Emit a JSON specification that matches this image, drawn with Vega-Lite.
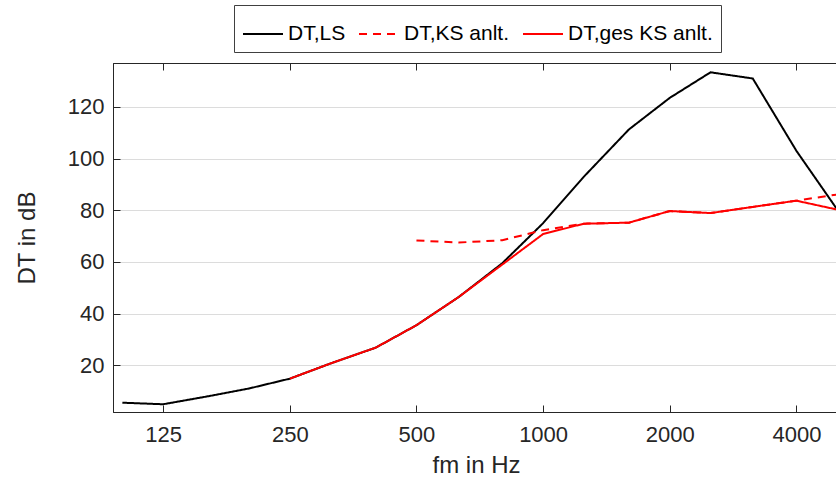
{
  "$schema": "https://vega.github.io/schema/vega-lite/v6.json",
  "autosize": {"type": "none"},
  "padding": {"left": 113, "top": 63, "right": 0, "bottom": 82},
  "width": 726,
  "height": 349,
  "background": "white",
  "config": {
    "view": {"stroke": "#262626", "strokeWidth": 1},
    "font": "Liberation Sans"
  },
  "data": {
    "values": [
      {"series": "DT,LS", "f": 100, "D": 5.5},
      {"series": "DT,LS", "f": 125, "D": 4.9},
      {"series": "DT,LS", "f": 160, "D": 8.0},
      {"series": "DT,LS", "f": 200, "D": 11.0},
      {"series": "DT,LS", "f": 250, "D": 14.8},
      {"series": "DT,LS", "f": 315, "D": 20.9},
      {"series": "DT,LS", "f": 400, "D": 26.8},
      {"series": "DT,LS", "f": 500, "D": 35.5},
      {"series": "DT,LS", "f": 630, "D": 46.4},
      {"series": "DT,LS", "f": 800, "D": 59.5},
      {"series": "DT,LS", "f": 1000, "D": 75.0},
      {"series": "DT,LS", "f": 1250, "D": 93.0},
      {"series": "DT,LS", "f": 1600, "D": 111.3},
      {"series": "DT,LS", "f": 2000, "D": 123.5},
      {"series": "DT,LS", "f": 2500, "D": 133.4},
      {"series": "DT,LS", "f": 3150, "D": 131.0},
      {"series": "DT,LS", "f": 4000, "D": 103.0},
      {"series": "DT,LS", "f": 5000, "D": 80.3},
      {"series": "DT,KS anlt.", "f": 500, "D": 68.3},
      {"series": "DT,KS anlt.", "f": 630, "D": 67.5},
      {"series": "DT,KS anlt.", "f": 800, "D": 68.4},
      {"series": "DT,KS anlt.", "f": 1000, "D": 72.3},
      {"series": "DT,KS anlt.", "f": 1250, "D": 74.8},
      {"series": "DT,KS anlt.", "f": 1600, "D": 75.2},
      {"series": "DT,KS anlt.", "f": 2000, "D": 79.7},
      {"series": "DT,KS anlt.", "f": 2500, "D": 78.9},
      {"series": "DT,KS anlt.", "f": 3150, "D": 81.3},
      {"series": "DT,KS anlt.", "f": 4000, "D": 83.7},
      {"series": "DT,KS anlt.", "f": 5000, "D": 86.1},
      {"series": "DT,ges KS anlt.", "f": 250, "D": 14.8},
      {"series": "DT,ges KS anlt.", "f": 315, "D": 20.9},
      {"series": "DT,ges KS anlt.", "f": 400, "D": 26.8},
      {"series": "DT,ges KS anlt.", "f": 500, "D": 35.5},
      {"series": "DT,ges KS anlt.", "f": 630, "D": 46.4},
      {"series": "DT,ges KS anlt.", "f": 800, "D": 59.0},
      {"series": "DT,ges KS anlt.", "f": 1000, "D": 70.8},
      {"series": "DT,ges KS anlt.", "f": 1250, "D": 74.8},
      {"series": "DT,ges KS anlt.", "f": 1600, "D": 75.2},
      {"series": "DT,ges KS anlt.", "f": 2000, "D": 79.7},
      {"series": "DT,ges KS anlt.", "f": 2500, "D": 78.9},
      {"series": "DT,ges KS anlt.", "f": 3150, "D": 81.3},
      {"series": "DT,ges KS anlt.", "f": 4000, "D": 83.7},
      {"series": "DT,ges KS anlt.", "f": 5000, "D": 80.25}
    ]
  },
  "layer": [
    {
      "mark": {"type": "line", "strokeWidth": 2, "clip": true},
      "encoding": {
        "x": {
          "field": "f",
          "type": "quantitative",
          "scale": {"type": "log", "domain": [95, 5050], "nice": false},
          "axis": {
            "orient": "bottom",
            "values": [125, 250, 500, 1000, 2000, 4000],
            "format": "d",
            "grid": false,
            "labelFontSize": 22,
            "labelColor": "#262626",
            "labelFont": "Liberation Sans",
            "domainColor": "#262626",
            "tickColor": "#262626",
            "tickSize": -7,
            "labelPadding": 19,
            "labelFlush": false,
            "title": "fm in Hz",
            "titleFontSize": 24,
            "titleFontWeight": "normal",
            "titleColor": "#262626",
            "titleFont": "Liberation Sans",
            "titlePadding": 8
          }
        },
        "y": {
          "field": "D",
          "type": "quantitative",
          "scale": {"domain": [1.9, 137], "nice": false, "zero": false},
          "axis": {
            "values": [20, 40, 60, 80, 100, 120],
            "grid": true,
            "gridColor": "#dcdcdc",
            "labelFontSize": 22,
            "labelColor": "#262626",
            "labelFont": "Liberation Sans",
            "domainColor": "#262626",
            "tickColor": "#262626",
            "tickSize": -7,
            "labelPadding": 16,
            "title": "DT in dB",
            "titleFontSize": 24,
            "titleFontWeight": "normal",
            "titleColor": "#262626",
            "titleFont": "Liberation Sans",
            "titlePadding": 28
          }
        },
        "color": {
          "field": "series",
          "type": "nominal",
          "sort": ["DT,LS", "DT,KS anlt.", "DT,ges KS anlt."],
          "scale": {"domain": ["DT,LS", "DT,KS anlt.", "DT,ges KS anlt."], "range": ["#000000", "#ff0000", "#ff0000"]},
          "legend": {
            "title": null,
            "orient": "none",
            "legendX": 121,
            "legendY": -58,
            "direction": "horizontal",
            "symbolType": "stroke",
            "symbolSize": 1600,
            "symbolStrokeWidth": 2,
            "labelFontSize": 21,
            "labelFont": "Liberation Sans",
            "labelColor": "#000000",
            "labelOffset": 4,
            "columnPadding": 9,
            "padding": 8,
            "strokeColor": "#404040",
            "fillColor": "#ffffff",
            "labelLimit": 400
          }
        },
        "strokeDash": {
          "field": "series",
          "type": "nominal",
          "sort": ["DT,LS", "DT,KS anlt.", "DT,ges KS anlt."],
          "scale": {"domain": ["DT,LS", "DT,KS anlt.", "DT,ges KS anlt."], "range": [[1, 0], [8, 6], [1, 0]]},
          "legend": {
            "title": null,
            "orient": "none",
            "legendX": 121,
            "legendY": -58,
            "direction": "horizontal",
            "symbolType": "stroke",
            "symbolSize": 1600,
            "symbolStrokeWidth": 2,
            "labelFontSize": 21,
            "labelFont": "Liberation Sans",
            "labelColor": "#000000",
            "labelOffset": 4,
            "columnPadding": 9,
            "padding": 8,
            "strokeColor": "#404040",
            "fillColor": "#ffffff",
            "labelLimit": 400
          }
        }
      }
    },
    {
      "mark": {"type": "point", "opacity": 0},
      "encoding": {
        "x": {
          "field": "f",
          "type": "quantitative",
          "axis": {
            "orient": "top",
            "values": [125, 250, 500, 1000, 2000, 4000],
            "labels": false,
            "grid": false,
            "title": null,
            "domainColor": "#262626",
            "tickColor": "#262626",
            "tickSize": -7
          }
        }
      }
    }
  ],
  "resolve": {"axis": {"x": "independent"}}
}
